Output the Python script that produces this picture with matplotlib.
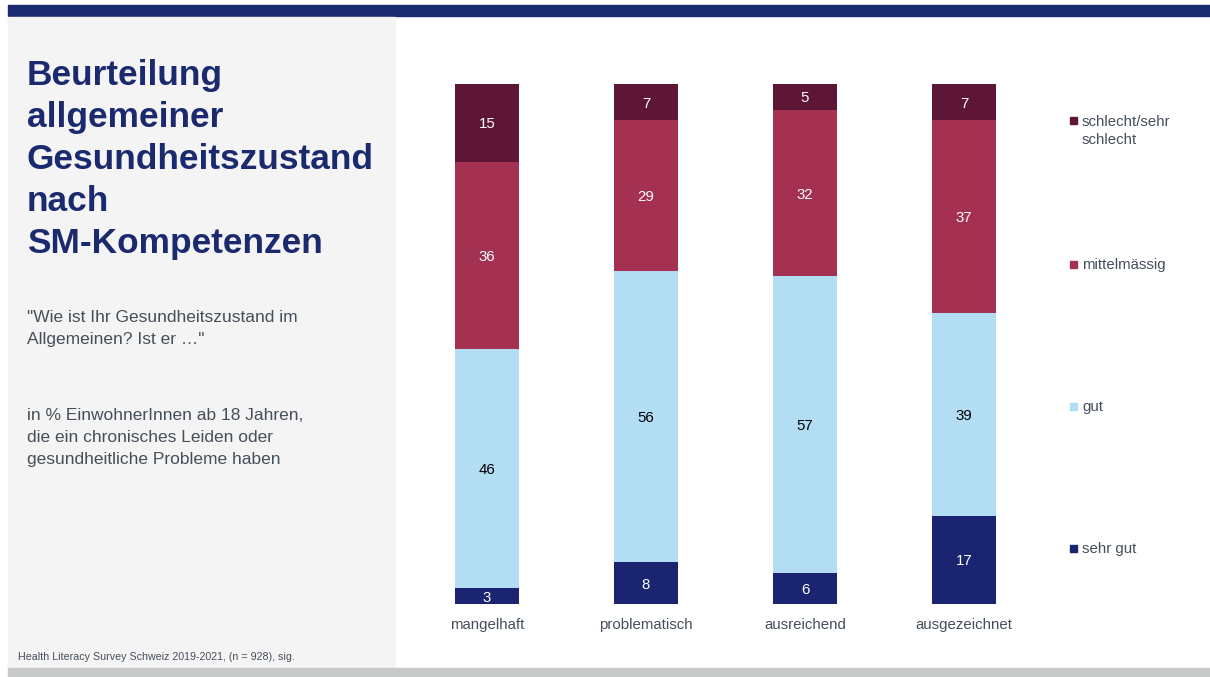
import matplotlib.pyplot as plt
import matplotlib.patches as mpatches

# ---------------------------------------------------------------------------
# Data
# ---------------------------------------------------------------------------
CATEGORIES = ["mangelhaft", "problematisch", "ausreichend", "ausgezeichnet"]
SEHR_GUT   = [3, 8, 6, 17]
GUT        = [46, 56, 57, 39]
MITTEL     = [36, 29, 32, 37]
SCHLECHT   = [15, 7, 5, 7]

SERIES_LABELS = ["sehr gut", "gut", "mittelmässig", "schlecht/sehr\nschlecht"]
COLORS        = ["#1b2470", "#b2ddf3", "#a43152", "#5e1636"]
TEXT_COLORS   = ["white", "black", "white", "white"]

TITLE    = "Beurteilung\nallgemeiner\nGesundheitszustand\nnach\nSM-Kompetenzen"
QUESTION = "\"Wie ist Ihr Gesundheitszustand im\nAllgemeinen? Ist er …\""
NOTE     = "in % EinwohnerInnen ab 18 Jahren,\ndie ein chronisches Leiden oder\ngesundheitliche Probleme haben"
SOURCE   = "Health Literacy Survey Schweiz 2019-2021, (n = 928), sig."

NAVY = "#1b2a6e"
GREY_TEXT = "#454f5a"

plt.rcParams["font.family"] = ["Liberation Sans", "DejaVu Sans"]

W, H = 1210, 677
fig = plt.figure(figsize=(W / 100, H / 100), dpi=100)


def fx(px):
    return px / W


def fy(py):
    return 1 - py / H


def text_block(x_px, y_px, text, step, **kw):
    """Write a multi-line block with a fixed pixel line step."""
    for k, line in enumerate(text.split("\n")):
        fig.text(fx(x_px), fy(y_px + step * k), line,
                 va="center_baseline", ha="left", **kw)


# --- frame decorations ---
fig.patches.append(mpatches.Rectangle((fx(8), fy(16)), fx(1202), 11 / H,
                                      transform=fig.transFigure, color=NAVY, zorder=0))
fig.patches.append(mpatches.Rectangle((fx(8), fy(668)), fx(387), 651 / H,
                                      transform=fig.transFigure, color="#f4f4f4", zorder=0))
fig.patches.append(mpatches.Rectangle((fx(8), fy(677)), fx(1202), 9 / H,
                                      transform=fig.transFigure, color="#c8cac9", zorder=0))

# --- left panel text ---
text_block(27, 72, TITLE, 42, fontsize=25.4, fontweight="bold", color=NAVY)
text_block(27, 316, QUESTION, 22, fontsize=12.5, color=GREY_TEXT)
text_block(27, 414, NOTE, 22, fontsize=12.5, color=GREY_TEXT)
text_block(18, 656, SOURCE, 0, fontsize=7.7, color=GREY_TEXT)

# --- bar chart ---
ax = fig.add_axes([fx(407.5), fy(604), fx(636), 520 / H])
ax.set_xlim(-0.5, 3.5)
ax.set_ylim(0, 100)

x = range(len(CATEGORIES))
bottoms = [0] * len(CATEGORIES)
for vals, color, tcol in zip([SEHR_GUT, GUT, MITTEL, SCHLECHT], COLORS, TEXT_COLORS):
    ax.bar(x, vals, bottom=bottoms, width=0.40, color=color, linewidth=0)
    for i, v in enumerate(vals):
        ax.text(i, bottoms[i] + v / 2, str(v), ha="center", va="center_baseline",
                fontsize=10.8, color=tcol)
    bottoms = [b + v for b, v in zip(bottoms, vals)]

ax.set_xticks(list(x))
ax.set_xticklabels(CATEGORIES, fontsize=10.8, color=GREY_TEXT)
ax.tick_params(axis="x", length=0, pad=10)
ax.set_yticks([])
for s in ax.spines.values():
    s.set_visible(False)
ax.patch.set_alpha(0)

# --- legend (manual, aligned with the segments) ---
legend_y = [548, 406, 264, 120]
for label, color, py in zip(SERIES_LABELS, COLORS, legend_y):
    fig.patches.append(mpatches.Rectangle((fx(1070), fy(py + 4)), fx(7), 7 / H,
                                          transform=fig.transFigure, color=color))
    text_block(1082, py, label, 18, fontsize=10.8, color=GREY_TEXT)

fig.savefig("out.png", dpi=100)
